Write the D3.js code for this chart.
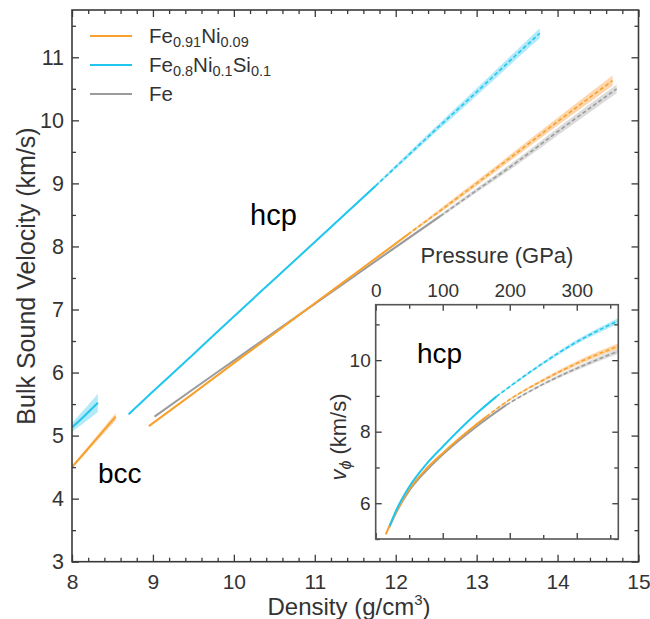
<!DOCTYPE html>
<html><head><meta charset="utf-8">
<script src="https://cdn.jsdelivr.net/npm/d3@7"></script>
<style>
body{margin:0;background:#fff;}
svg{display:block;}
text{font-family:"Liberation Sans",Arial,sans-serif;}
</style></head><body>
<svg id="chart" width="650" height="619"></svg>
<script>
// ---- data: bulk sound velocity (km/s) vs density (g/cm3) ----
// bcc phase
const bccOrangeDensity = [8.0, 8.27, 8.54];
const bccOrangeVelocity = [4.50, 4.90, 5.30];
const bccOrangeErr = [0.02, 0.04, 0.06];
const bccBlueDensity = [8.0, 8.16, 8.32];
const bccBlueVelocity = [5.13, 5.32, 5.52];
const bccBlueErr = [0.07, 0.11, 0.145];

// hcp phase
const hcpOrangeDensity = [8.95, 9.5, 10, 10.5, 11, 11.5, 12.15, 12.5, 13, 13.5, 14, 14.68];
const hcpOrangeVelocity = [5.15, 5.67, 6.15, 6.62, 7.10, 7.57, 8.19, 8.52, 9.00, 9.49, 9.98, 10.63];
const hcpOrangeErr = [0.01, 0.01, 0.01, 0.01, 0.01, 0.015, 0.02, 0.03, 0.04, 0.05, 0.06, 0.08];
const hcpBlueDensity = [8.70, 9, 9.5, 10, 10.5, 11, 11.75, 12, 12.5, 13, 13.5, 13.78];
const hcpBlueVelocity = [5.34, 5.70, 6.29, 6.89, 7.48, 8.07, 8.96, 9.26, 9.86, 10.45, 11.05, 11.38];
const hcpBlueErr = [0.01, 0.01, 0.01, 0.01, 0.01, 0.015, 0.02, 0.03, 0.045, 0.06, 0.07, 0.08];
const hcpGrayDensity = [9.02, 9.5, 10, 10.5, 11, 11.5, 12, 12.55, 13, 13.5, 14, 14.73];
const hcpGrayVelocity = [5.30, 5.74, 6.19, 6.64, 7.09, 7.54, 7.99, 8.48, 8.89, 9.34, 9.82, 10.50];
const hcpGrayErr = [0.01, 0.01, 0.01, 0.01, 0.01, 0.015, 0.02, 0.025, 0.035, 0.045, 0.06, 0.07];
// density beyond which values are extrapolated (dashed)
const extrapFromDensity = [12.15, 11.75, 12.55];

// inset: velocity vs pressure (GPa)
const insetOrangePressure = [15, 25, 50, 75, 100, 150, 165, 200, 250, 300, 362];
const insetOrangeVelocity = [5.13, 5.55, 6.39, 6.95, 7.40, 8.20, 8.42, 8.90, 9.44, 9.91, 10.39];
const insetOrangeErr = [0.01, 0.01, 0.01, 0.01, 0.01, 0.015, 0.02, 0.03, 0.045, 0.06, 0.08];
const insetBluePressure = [21, 30, 50, 75, 100, 150, 180, 200, 250, 300, 362];
const insetBlueVelocity = [5.37, 5.78, 6.46, 7.08, 7.58, 8.50, 8.98, 9.26, 9.92, 10.51, 11.10];
const insetBlueErr = [0.01, 0.01, 0.01, 0.01, 0.01, 0.015, 0.02, 0.03, 0.045, 0.06, 0.08];
const insetGrayPressure = [20, 30, 50, 75, 100, 150, 195, 250, 300, 362];
const insetGrayVelocity = [5.32, 5.72, 6.35, 6.90, 7.36, 8.14, 8.75, 9.33, 9.77, 10.25];
const insetGrayErr = [0.01, 0.01, 0.01, 0.01, 0.01, 0.015, 0.02, 0.04, 0.055, 0.07];
const extrapFromPressure = [165, 180, 195];

// ticks
const densityTicks = [8, 9, 10, 11, 12, 13, 14, 15];
const velocityTicks = [3, 4, 5, 6, 7, 8, 9, 10, 11];
const pressureTicks = [0, 100, 200, 300];
const insetVelocityTicks = [6, 8, 10];

// ---- styles ----
const colors = ["#F7A12C", "#1FC6EE", "#9B9B9B"];
const bandColors = ["#FDCF9E", "#A6E6F8", "#D6D6D6"];
const frameColor = "#3a3a3a";
const labelColor = "#333";

const svg = d3.select("#chart");

// main plot geometry
const M = {left: 72, right: 638.5, top: 10, bottom: 561.7};
const x = d3.scaleLinear().domain([8, 15]).range([M.left, M.right]);
const y = d3.scaleLinear().domain([3, 11.75]).range([M.bottom, M.top]);

function rows(xs, ys, es) { return xs.map((d, i) => ({x: d, y: ys[i], e: es[i]})); }

function drawSeries(g, sx, sy, data, ci, splitAt, curve) {
  const area = d3.area().x(d => sx(d.x)).y0(d => sy(d.y - d.e)).y1(d => sy(d.y + d.e)).curve(curve);
  const line = d3.line().x(d => sx(d.x)).y(d => sy(d.y)).curve(curve);
  g.append("path").attr("d", area(data)).attr("fill", bandColors[ci]).attr("opacity", 0.85);
  const solid = splitAt == null ? data : data.filter(d => d.x <= splitAt);
  const dashed = splitAt == null ? [] : data.filter(d => d.x >= splitAt);
  g.append("path").attr("d", line(solid)).attr("fill", "none")
    .attr("stroke", colors[ci]).attr("stroke-width", 2);
  if (dashed.length > 1) {
    g.append("path").attr("d", line(dashed)).attr("fill", "none")
      .attr("stroke", colors[ci]).attr("stroke-width", 1.6).attr("stroke-dasharray", "4,2.5");
  }
}

// ---- main plot ----
const gMain = svg.append("g");
const clipMain = svg.append("clipPath").attr("id", "clipMain");
clipMain.append("rect").attr("x", M.left).attr("y", M.top).attr("width", M.right - M.left).attr("height", M.bottom - M.top);
const gData = gMain.append("g").attr("clip-path", "url(#clipMain)");

const lin = d3.curveMonotoneX;
drawSeries(gData, x, y, rows(bccOrangeDensity, bccOrangeVelocity, bccOrangeErr), 0, null, lin);
drawSeries(gData, x, y, rows(bccBlueDensity, bccBlueVelocity, bccBlueErr), 1, null, lin);
drawSeries(gData, x, y, rows(hcpGrayDensity, hcpGrayVelocity, hcpGrayErr), 2, extrapFromDensity[2], lin);
drawSeries(gData, x, y, rows(hcpOrangeDensity, hcpOrangeVelocity, hcpOrangeErr), 0, extrapFromDensity[0], lin);
drawSeries(gData, x, y, rows(hcpBlueDensity, hcpBlueVelocity, hcpBlueErr), 1, extrapFromDensity[1], lin);

// axes (ticks point inward, mirrored on top and right)
function styleAxis(g, fontSize) {
  g.select(".domain").remove();
  g.selectAll(".tick line").attr("stroke", frameColor).attr("stroke-width", 1.3);
  g.selectAll(".tick text").attr("fill", labelColor).attr("font-size", fontSize)
    .attr("font-family", "Liberation Sans, Arial, sans-serif");
}
const minorX = d3.range(8, 15.001, 0.2).filter(v => Math.abs(v - Math.round(v)) > 1e-6);
const minorY = d3.range(3.5, 11.75, 1);

gMain.append("g").attr("transform", `translate(0,${M.bottom})`)
  .call(d3.axisBottom(x).tickValues(densityTicks).tickSize(-7).tickPadding(12).tickFormat(d3.format("d")))
  .call(g => styleAxis(g, 21));
gMain.append("g").attr("transform", `translate(0,${M.bottom})`)
  .call(d3.axisBottom(x).tickValues(minorX).tickSize(-4).tickFormat(""))
  .call(g => styleAxis(g, 0));
gMain.append("g").attr("transform", `translate(0,${M.top})`)
  .call(d3.axisTop(x).tickValues(densityTicks).tickSize(-7).tickFormat(""))
  .call(g => styleAxis(g, 0));
gMain.append("g").attr("transform", `translate(0,${M.top})`)
  .call(d3.axisTop(x).tickValues(minorX).tickSize(-4).tickFormat(""))
  .call(g => styleAxis(g, 0));
gMain.append("g").attr("transform", `translate(${M.left},0)`)
  .call(d3.axisLeft(y).tickValues(velocityTicks).tickSize(-7).tickPadding(8).tickFormat(d3.format("d")))
  .call(g => styleAxis(g, 21.5));
gMain.append("g").attr("transform", `translate(${M.left},0)`)
  .call(d3.axisLeft(y).tickValues(minorY).tickSize(-4).tickFormat(""))
  .call(g => styleAxis(g, 0));
gMain.append("g").attr("transform", `translate(${M.right},0)`)
  .call(d3.axisRight(y).tickValues(velocityTicks).tickSize(-7).tickFormat(""))
  .call(g => styleAxis(g, 0));
gMain.append("g").attr("transform", `translate(${M.right},0)`)
  .call(d3.axisRight(y).tickValues(minorY).tickSize(-4).tickFormat(""))
  .call(g => styleAxis(g, 0));

gMain.append("rect").attr("x", M.left).attr("y", M.top)
  .attr("width", M.right - M.left).attr("height", M.bottom - M.top)
  .attr("fill", "none").attr("stroke", frameColor).attr("stroke-width", 1.6);

// axis titles
const xt = gMain.append("text").attr("x", 349).attr("y", 615)
  .attr("text-anchor", "middle").attr("font-size", 24).attr("fill", labelColor);
xt.append("tspan").text("Density (g/cm");
xt.append("tspan").text("3").attr("font-size", 15).attr("dy", -10);
xt.append("tspan").text(")").attr("dy", 10);

gMain.append("text").attr("transform", `translate(35,276) rotate(-90)`)
  .attr("text-anchor", "middle").attr("font-size", 25).attr("fill", labelColor)
  .text("Bulk Sound Velocity (km/s)");

// phase labels
gMain.append("text").attr("x", 98).attr("y", 483).attr("font-family", "Lato, sans-serif")
  .attr("font-size", 28).attr("fill", "#000").text("bcc");
gMain.append("text").attr("x", 250).attr("y", 225).attr("font-family", "Lato, sans-serif")
  .attr("font-size", 29).attr("fill", "#000").text("hcp");

// legend
const legendItems = [
  [["Fe", false], ["0.91", true], ["Ni", false], ["0.09", true]],
  [["Fe", false], ["0.8", true], ["Ni", false], ["0.1", true], ["Si", false], ["0.1", true]],
  [["Fe", false]]
];
const legendY = [36, 65, 94];
legendItems.forEach((parts, i) => {
  const g = gMain.append("g");
  g.append("line").attr("x1", 90).attr("x2", 132).attr("y1", legendY[i]).attr("y2", legendY[i])
    .attr("stroke", colors[i]).attr("stroke-width", 2);
  const t = g.append("text").attr("x", 149).attr("y", legendY[i] + 7).attr("font-size", 20.5).attr("fill", labelColor);
  let sub = false;
  parts.forEach(([s, isSub]) => {
    const ts = t.append("tspan").text(s);
    if (isSub && !sub) { ts.attr("font-size", 14.5).attr("dy", 4); sub = true; }
    else if (!isSub && sub) { ts.attr("dy", -4); sub = false; }
    else if (isSub) ts.attr("font-size", 14.5);
  });
});

// ---- inset: velocity vs pressure ----
const I = {left: 375.7, right: 618.3, top: 304.7, bottom: 539};
const px = d3.scaleLinear().domain([0, 362]).range([I.left, I.right]);
const py = d3.scaleLinear().domain([5, 11.55]).range([I.bottom, I.top]);
const gIn = svg.append("g");
gIn.append("rect").attr("x", I.left).attr("y", I.top).attr("width", I.right - I.left)
  .attr("height", I.bottom - I.top).attr("fill", "#fff");
const clipIn = svg.append("clipPath").attr("id", "clipIn");
clipIn.append("rect").attr("x", I.left).attr("y", I.top).attr("width", I.right - I.left).attr("height", I.bottom - I.top);
const gInData = gIn.append("g").attr("clip-path", "url(#clipIn)");
const curve = d3.curveMonotoneX;
drawSeries(gInData, px, py, rows(insetGrayPressure, insetGrayVelocity, insetGrayErr), 2, extrapFromPressure[2], curve);
drawSeries(gInData, px, py, rows(insetOrangePressure, insetOrangeVelocity, insetOrangeErr), 0, extrapFromPressure[0], curve);
drawSeries(gInData, px, py, rows(insetBluePressure, insetBlueVelocity, insetBlueErr), 1, extrapFromPressure[1], curve);

const minorP = [50, 150, 250, 350];
const minorV = [5, 7, 9, 11];
gIn.append("g").attr("transform", `translate(0,${I.top})`)
  .call(d3.axisTop(px).tickValues(pressureTicks).tickSize(-6).tickPadding(8).tickFormat(d3.format("d")))
  .call(g => styleAxis(g, 19));
gIn.append("g").attr("transform", `translate(0,${I.top})`)
  .call(d3.axisTop(px).tickValues(minorP).tickSize(-4).tickFormat(""))
  .call(g => styleAxis(g, 0));
gIn.append("g").attr("transform", `translate(0,${I.bottom})`)
  .call(d3.axisBottom(px).tickValues(pressureTicks).tickSize(-6).tickFormat(""))
  .call(g => styleAxis(g, 0));
gIn.append("g").attr("transform", `translate(0,${I.bottom})`)
  .call(d3.axisBottom(px).tickValues(minorP).tickSize(-4).tickFormat(""))
  .call(g => styleAxis(g, 0));
gIn.append("g").attr("transform", `translate(${I.left},0)`)
  .call(d3.axisLeft(py).tickValues(insetVelocityTicks).tickSize(-6).tickPadding(5).tickFormat(d3.format("d")))
  .call(g => styleAxis(g, 19));
gIn.append("g").attr("transform", `translate(${I.left},0)`)
  .call(d3.axisLeft(py).tickValues(minorV).tickSize(-4).tickFormat(""))
  .call(g => styleAxis(g, 0));
gIn.append("g").attr("transform", `translate(${I.right},0)`)
  .call(d3.axisRight(py).tickValues(insetVelocityTicks).tickSize(-6).tickFormat(""))
  .call(g => styleAxis(g, 0));
gIn.append("g").attr("transform", `translate(${I.right},0)`)
  .call(d3.axisRight(py).tickValues(minorV).tickSize(-4).tickFormat(""))
  .call(g => styleAxis(g, 0));
gIn.append("rect").attr("x", I.left).attr("y", I.top).attr("width", I.right - I.left)
  .attr("height", I.bottom - I.top).attr("fill", "none").attr("stroke", "#555").attr("stroke-width", 1.6);

gIn.append("text").attr("x", 497).attr("y", 263).attr("text-anchor", "middle")
  .attr("font-size", 22).attr("fill", labelColor).text("Pressure (GPa)");
const yt = gIn.append("text").attr("transform", `translate(346,437) rotate(-90)`)
  .attr("text-anchor", "middle").attr("font-size", 22).attr("fill", labelColor);
yt.append("tspan").text("v").attr("font-style", "italic");
yt.append("tspan").text("\u03D5").attr("font-style", "italic").attr("font-size", 16).attr("dy", 5);
yt.append("tspan").text(" (km/s)").attr("dy", -5);

gIn.append("text").attr("x", 417).attr("y", 363).attr("font-family", "Lato, sans-serif")
  .attr("font-size", 28).attr("fill", "#000").text("hcp");
</script>
</body></html>
